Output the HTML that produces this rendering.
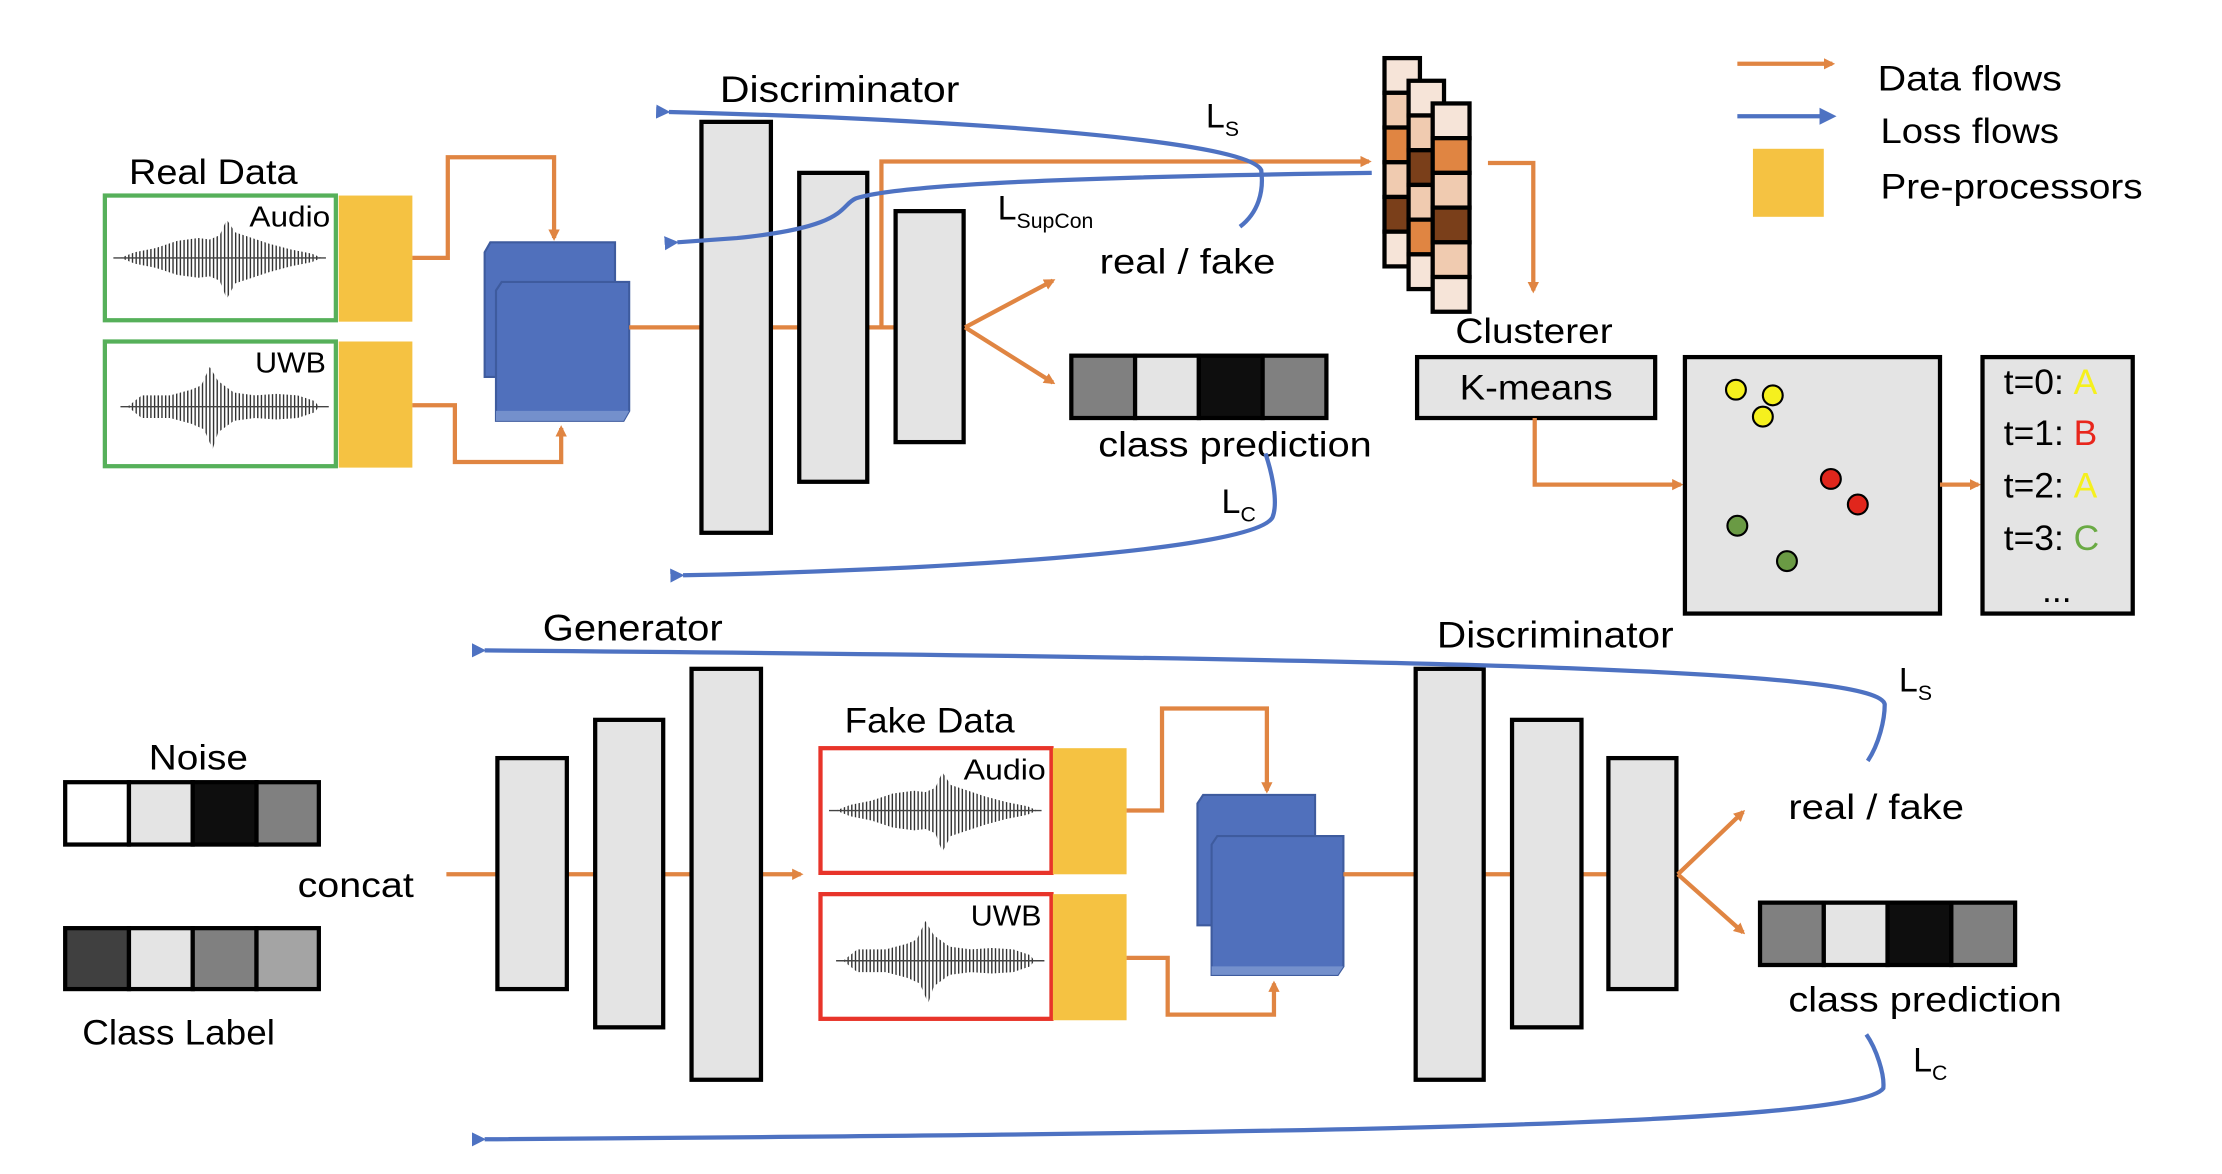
<!DOCTYPE html>
<html><head><meta charset="utf-8"><style>
html,body{margin:0;padding:0;background:#fff;}
svg{display:block;}
text{font-family:"Liberation Sans",sans-serif;fill:#000;}
</style></head><body>
<svg width="2222" height="1174" viewBox="0 0 1568 828.5" preserveAspectRatio="none" xmlns="http://www.w3.org/2000/svg">
<defs>
<marker id="ao" markerWidth="8" markerHeight="8" refX="6" refY="4" orient="auto" markerUnits="userSpaceOnUse"><path d="M0,0 L8,4 L0,8 Z" fill="#e08542"/></marker>
<marker id="ab" markerWidth="10" markerHeight="10" refX="1" refY="5" orient="auto-start-reverse" markerUnits="userSpaceOnUse"><path d="M10,0 L0,5 L10,10 Z" fill="#4e72c2"/></marker>
<pattern id="wv" width="2.6" height="10" patternUnits="userSpaceOnUse"><rect width="1" height="10" fill="#333"/></pattern>
<symbol id="wa" viewBox="0 0 150 60" overflow="visible">
<polygon fill="url(#wv)" points="5,30 15,26 30,23 45,18 60,16 68,17 75,14 80,3 86,12 95,15 110,20 125,24 140,27 147,30 140,33 125,36 110,40 95,45 86,48 80,59 75,46 68,43 60,44 45,42 30,37 15,34"/>
<line x1="0" y1="30" x2="150" y2="30" stroke="#444" stroke-width="1"/>
</symbol>
<symbol id="wu" viewBox="0 0 150 60" overflow="visible">
<polygon fill="url(#wv)" points="10,30 20,22 40,22 55,18 62,15 68,2 74,12 85,20 100,22 115,21 130,22 142,26 145,30 142,34 130,38 115,39 100,38 85,40 74,48 70,60 64,46 55,42 40,38 20,38"/>
<line x1="5" y1="30" x2="152" y2="30" stroke="#444" stroke-width="1"/>
</symbol>
</defs>

<!-- Legend -->
<line x1="1226" y1="45" x2="1293" y2="45" stroke="#e08542" stroke-width="3" marker-end="url(#ao)"/>
<line x1="1226" y1="82" x2="1286" y2="82" stroke="#4e72c2" stroke-width="3"/>
<path d="M1284,76 L1296,82 L1284,88 Z" fill="#4e72c2"/>
<rect x="1237" y="105" width="50" height="48" fill="#f5c242"/>
<text x="1325" y="64" font-size="25" textLength="130" lengthAdjust="spacingAndGlyphs">Data flows</text>
<text x="1327" y="101" font-size="25" textLength="126" lengthAdjust="spacingAndGlyphs">Loss flows</text>
<text x="1327" y="140" font-size="25" textLength="185" lengthAdjust="spacingAndGlyphs">Pre-processors</text>

<!-- TOP: real data -->
<text x="91" y="130" font-size="25" textLength="119" lengthAdjust="spacingAndGlyphs">Real Data</text>
<rect x="74" y="138" width="163" height="88" fill="#fff" stroke="#56b05a" stroke-width="3"/>
<rect x="74" y="241" width="163" height="88" fill="#fff" stroke="#56b05a" stroke-width="3"/>
<rect x="239" y="138" width="52" height="89" fill="#f5c242"/>
<rect x="239" y="241" width="52" height="89" fill="#f5c242"/>
<text x="176" y="160" font-size="20" textLength="57" lengthAdjust="spacingAndGlyphs">Audio</text>
<text x="180" y="263" font-size="20" textLength="50" lengthAdjust="spacingAndGlyphs">UWB</text>
<use href="#wa" x="80" y="152" width="150" height="60"/>
<use href="#wu" x="80" y="257" width="150" height="60"/>
<polyline points="291,182 316,182 316,111 391,111 391,168" fill="none" stroke="#e08542" stroke-width="3" marker-end="url(#ao)"/>
<polyline points="291,286 321,286 321,326 396,326 396,302" fill="none" stroke="#e08542" stroke-width="3" marker-end="url(#ao)"/>
<!-- blue blocks -->
<path d="M342,178 L346,171 L434,171 L434,266 L342,266 Z" fill="#5070bc" stroke="#3e5b9e" stroke-width="1.5"/>
<path d="M350,205 L354,199 L444,199 L444,290 L440,297 L350,297 Z" fill="#5070bc" stroke="#3e5b9e" stroke-width="1.5"/>
<path d="M350,290 L444,290 L440,297 L350,297 Z" fill="#7490cc"/>
<!-- disc -->
<line x1="444" y1="231" x2="632" y2="231" stroke="#e08542" stroke-width="3"/>
<polyline points="622,231 622,114 966,114" fill="none" stroke="#e08542" stroke-width="3" marker-end="url(#ao)"/>
<rect x="495" y="86" width="49" height="290" fill="#e4e4e4" stroke="#000" stroke-width="3"/>
<rect x="564" y="122" width="48" height="218" fill="#e4e4e4" stroke="#000" stroke-width="3"/>
<rect x="632" y="149" width="48" height="163" fill="#e4e4e4" stroke="#000" stroke-width="3"/>
<text x="508" y="72" font-size="26" textLength="169" lengthAdjust="spacingAndGlyphs">Discriminator</text>
<line x1="681" y1="231" x2="743" y2="198" stroke="#e08542" stroke-width="3" marker-end="url(#ao)"/>
<line x1="681" y1="231" x2="743" y2="270" stroke="#e08542" stroke-width="3" marker-end="url(#ao)"/>
<text x="776" y="193" font-size="25" textLength="124" lengthAdjust="spacingAndGlyphs">real / fake</text>
<g stroke="#000" stroke-width="3"><rect x="756" y="251" width="45" height="44" fill="#808080"/><rect x="801" y="251" width="45" height="44" fill="#e4e4e4"/><rect x="846" y="251" width="45" height="44" fill="#0e0e0e"/><rect x="891" y="251" width="45" height="44" fill="#808080"/></g>
<text x="775" y="322" font-size="25" textLength="193" lengthAdjust="spacingAndGlyphs">class prediction</text>
<text x="704" y="155" font-size="24">L<tspan font-size="15" dy="6">SupCon</tspan></text>
<text x="851" y="90" font-size="24">L<tspan font-size="15" dy="6">S</tspan></text>
<text x="862" y="362" font-size="24">L<tspan font-size="15" dy="6">C</tspan></text>
<!-- blue loss curves top -->
<path d="M875,160 C888,150 892,135 890,120 C880,100 700,85 472,79" fill="none" stroke="#4e72c2" stroke-width="3" marker-end="url(#ab)"/>
<path d="M968,122 C820,124 640,128 604,140 C592,145 600,160 520,168 L478,171" fill="none" stroke="#4e72c2" stroke-width="3" marker-end="url(#ab)"/>
<path d="M893,320 C898,335 902,355 898,365 C885,390 640,403 482,406" fill="none" stroke="#4e72c2" stroke-width="3" marker-end="url(#ab)"/>

<!-- feature stack -->
<g stroke="#000" stroke-width="3">
<rect x="977" y="41" width="25" height="24.5" fill="#f6e4d8"/><rect x="977" y="65.5" width="25" height="24.5" fill="#f0cbb0"/><rect x="977" y="90" width="25" height="24.5" fill="#e08542"/><rect x="977" y="114.5" width="25" height="24.5" fill="#f0cbb0"/><rect x="977" y="139" width="25" height="24.5" fill="#7a3f1a"/><rect x="977" y="163.5" width="25" height="24.5" fill="#f6e4d8"/>
<rect x="994" y="57" width="25" height="24.5" fill="#f6e4d8"/><rect x="994" y="81.5" width="25" height="24.5" fill="#f0cbb0"/><rect x="994" y="106" width="25" height="24.5" fill="#7a3f1a"/><rect x="994" y="130.5" width="25" height="24.5" fill="#f0cbb0"/><rect x="994" y="155" width="25" height="24.5" fill="#e08542"/><rect x="994" y="179.5" width="25" height="24.5" fill="#f6e4d8"/>
<rect x="1011" y="73" width="26" height="24.5" fill="#f6e4d8"/><rect x="1011" y="97.5" width="26" height="24.5" fill="#e08542"/><rect x="1011" y="122" width="26" height="24.5" fill="#f0cbb0"/><rect x="1011" y="146.5" width="26" height="24.5" fill="#7a3f1a"/><rect x="1011" y="171" width="26" height="24.5" fill="#f0cbb0"/><rect x="1011" y="195.5" width="26" height="24.5" fill="#f6e4d8"/>
</g>
<polyline points="1050,115 1082,115 1082,205" fill="none" stroke="#e08542" stroke-width="3" marker-end="url(#ao)"/>
<text x="1027" y="242" font-size="25" textLength="111" lengthAdjust="spacingAndGlyphs">Clusterer</text>
<rect x="1000" y="252" width="168" height="43" fill="#e4e4e4" stroke="#000" stroke-width="3"/>
<text x="1084" y="282" font-size="25" text-anchor="middle" textLength="108" lengthAdjust="spacingAndGlyphs">K-means</text>
<polyline points="1083,295 1083,342 1186,342" fill="none" stroke="#e08542" stroke-width="3" marker-end="url(#ao)"/>
<rect x="1189" y="252" width="180" height="181" fill="#e4e4e4" stroke="#000" stroke-width="3"/>
<g stroke="#000" stroke-width="1.5">
<circle cx="1225" cy="275" r="7" fill="#f5f01e"/><circle cx="1251" cy="279" r="7" fill="#f5f01e"/><circle cx="1244" cy="294" r="7" fill="#f5f01e"/>
<circle cx="1292" cy="338" r="7" fill="#e0261c"/><circle cx="1311" cy="356" r="7" fill="#e0261c"/>
<circle cx="1226" cy="371" r="7" fill="#6a9a44"/><circle cx="1261" cy="396" r="7" fill="#6a9a44"/>
</g>
<line x1="1369" y1="342" x2="1396" y2="342" stroke="#e08542" stroke-width="3" marker-end="url(#ao)"/>
<rect x="1399" y="252" width="106" height="181" fill="#e4e4e4" stroke="#000" stroke-width="3"/>
<g font-size="25">
<text x="1414" y="278">t=0: <tspan fill="#f5f01e">A</tspan></text>
<text x="1414" y="314">t=1: <tspan fill="#e8261c">B</tspan></text>
<text x="1414" y="351">t=2: <tspan fill="#f5f01e">A</tspan></text>
<text x="1414" y="388">t=3: <tspan fill="#6aaa44">C</tspan></text>
<text x="1441" y="425">...</text>
</g>

<!-- BOTTOM -->
<text x="383" y="452" font-size="26" textLength="127" lengthAdjust="spacingAndGlyphs">Generator</text>
<text x="1014" y="457" font-size="26" textLength="167" lengthAdjust="spacingAndGlyphs">Discriminator</text>
<text x="105" y="543" font-size="25" textLength="70" lengthAdjust="spacingAndGlyphs">Noise</text>
<g stroke="#000" stroke-width="3"><rect x="46" y="552" width="45" height="44" fill="#fff"/><rect x="91" y="552" width="45" height="44" fill="#e4e4e4"/><rect x="136" y="552" width="45" height="44" fill="#0e0e0e"/><rect x="181" y="552" width="44" height="44" fill="#808080"/></g>
<g stroke="#000" stroke-width="3"><rect x="46" y="655" width="45" height="43" fill="#404040"/><rect x="91" y="655" width="45" height="43" fill="#e4e4e4"/><rect x="136" y="655" width="45" height="43" fill="#808080"/><rect x="181" y="655" width="44" height="43" fill="#a4a4a4"/></g>
<text x="58" y="737" font-size="25" textLength="136" lengthAdjust="spacingAndGlyphs">Class Label</text>
<text x="210" y="633" font-size="25" textLength="82" lengthAdjust="spacingAndGlyphs">concat</text>
<line x1="315" y1="617" x2="565" y2="617" stroke="#e08542" stroke-width="3" marker-end="url(#ao)"/>
<rect x="351" y="535" width="49" height="163" fill="#e4e4e4" stroke="#000" stroke-width="3"/>
<rect x="420" y="508" width="48" height="217" fill="#e4e4e4" stroke="#000" stroke-width="3"/>
<rect x="488" y="472" width="49" height="290" fill="#e4e4e4" stroke="#000" stroke-width="3"/>
<text x="596" y="517" font-size="25" textLength="120" lengthAdjust="spacingAndGlyphs">Fake Data</text>
<rect x="579" y="528" width="163" height="88" fill="#fff" stroke="#e8342a" stroke-width="3"/>
<rect x="579" y="631" width="163" height="88" fill="#fff" stroke="#e8342a" stroke-width="3"/>
<rect x="743" y="528" width="52" height="89" fill="#f5c242"/>
<rect x="743" y="631" width="52" height="89" fill="#f5c242"/>
<text x="680" y="550" font-size="20" textLength="58" lengthAdjust="spacingAndGlyphs">Audio</text>
<text x="685" y="653" font-size="20" textLength="50" lengthAdjust="spacingAndGlyphs">UWB</text>
<use href="#wa" x="585" y="542" width="150" height="60"/>
<use href="#wu" x="585" y="648" width="150" height="60"/>
<polyline points="795,572 820,572 820,500 894,500 894,558" fill="none" stroke="#e08542" stroke-width="3" marker-end="url(#ao)"/>
<polyline points="795,676 824,676 824,716 899,716 899,694" fill="none" stroke="#e08542" stroke-width="3" marker-end="url(#ao)"/>
<path d="M845,567 L849,561 L928,561 L928,653 L845,653 Z" fill="#5070bc" stroke="#3e5b9e" stroke-width="1.5"/>
<path d="M855,596 L859,590 L948,590 L948,682 L944,688 L855,688 Z" fill="#5070bc" stroke="#3e5b9e" stroke-width="1.5"/>
<path d="M855,682 L948,682 L944,688 L855,688 Z" fill="#7490cc"/>
<line x1="948" y1="617" x2="1135" y2="617" stroke="#e08542" stroke-width="3"/>
<rect x="999" y="472" width="48" height="290" fill="#e4e4e4" stroke="#000" stroke-width="3"/>
<rect x="1067" y="508" width="49" height="217" fill="#e4e4e4" stroke="#000" stroke-width="3"/>
<rect x="1135" y="535" width="48" height="163" fill="#e4e4e4" stroke="#000" stroke-width="3"/>
<line x1="1184" y1="617" x2="1230" y2="573" stroke="#e08542" stroke-width="3" marker-end="url(#ao)"/>
<line x1="1184" y1="617" x2="1230" y2="658" stroke="#e08542" stroke-width="3" marker-end="url(#ao)"/>
<text x="1262" y="578" font-size="25" textLength="124" lengthAdjust="spacingAndGlyphs">real / fake</text>
<g stroke="#000" stroke-width="3"><rect x="1242" y="637" width="45" height="44" fill="#808080"/><rect x="1287" y="637" width="45" height="44" fill="#e4e4e4"/><rect x="1332" y="637" width="45" height="44" fill="#0e0e0e"/><rect x="1377" y="637" width="45" height="44" fill="#808080"/></g>
<text x="1262" y="714" font-size="25" textLength="193" lengthAdjust="spacingAndGlyphs">class prediction</text>
<text x="1340" y="488" font-size="24">L<tspan font-size="15" dy="6">S</tspan></text>
<text x="1350" y="756" font-size="24">L<tspan font-size="15" dy="6">C</tspan></text>
<path d="M1318,537 C1326,525 1330,508 1330,497 C1325,475 1100,465 342,459" fill="none" stroke="#4e72c2" stroke-width="3" marker-end="url(#ab)"/>
<path d="M1317,730 C1324,740 1330,758 1329,768 C1310,795 900,800 342,804" fill="none" stroke="#4e72c2" stroke-width="3" marker-end="url(#ab)"/>
</svg>
</body></html>
